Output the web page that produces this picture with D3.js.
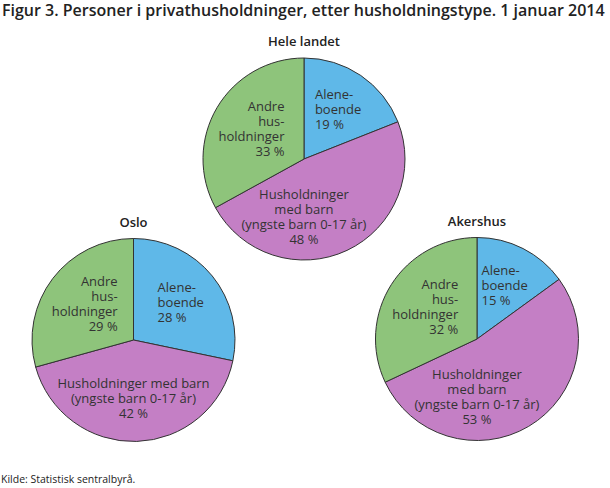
<!DOCTYPE html>
<html>
<head>
<meta charset="utf-8">
<script src="https://cdn.jsdelivr.net/npm/d3@7"></script>
<style>
  body { margin: 0; background: #fff; }
  svg { display: block; font-family: "Open Sans", sans-serif; }
</style>
</head>
<body>
<div id="chart_div"></div>
<script>
// Data
const categories = ["Alene-\nboende", "Husholdninger\nmed barn\n(yngste barn 0-17 år)", "Andre\nhus-\nholdninger"];
const regions = ["Hele landet", "Oslo", "Akershus"];
const heleLandet = [19, 48, 33];
const oslo = [28, 42, 29];
const akershus = [15, 53, 32];
const colors = ["#5fb8e8", "#c47fc5", "#8ec47b"];

const width = 610, height = 488;

// Pie placement (center x, center y, radius)
const layout = [
  { cx: 304, cy: 159, r: 101, values: heleLandet, labels: categories },
  { cx: 133.5, cy: 340, r: 101.5, values: oslo,
    labels: [categories[0], "Husholdninger med barn\n(yngste barn 0-17 år)", categories[2]] },
  { cx: 477, cy: 339, r: 101.5, values: akershus, labels: categories }
];

const svg = d3.select("#chart_div").append("svg")
  .attr("width", width)
  .attr("height", height);

// Title
svg.append("text")
  .attr("x", 2)
  .attr("y", 16)
  .attr("font-size", 16)
  .attr("font-weight", 600)
  .attr("fill", "#222")
  .text("Figur 3. Personer i privathusholdninger, etter husholdningstype. 1 januar 2014");

const pie = d3.pie().sort(null).value(d => d);

layout.forEach((p, idx) => {
  const g = svg.append("g").attr("transform", `translate(${p.cx},${p.cy})`);
  const arc = d3.arc().innerRadius(0).outerRadius(p.r);
  const labelArc = d3.arc().innerRadius(p.r * 0.6).outerRadius(p.r * 0.6);
  const arcs = pie(p.values);

  // Pie title
  svg.append("text")
    .attr("x", p.cx)
    .attr("y", p.cy - p.r - 12)
    .attr("text-anchor", "middle")
    .attr("font-size", 13)
    .attr("font-weight", 600)
    .attr("fill", "#222")
    .text(regions[idx]);

  g.selectAll("path")
    .data(arcs)
    .join("path")
    .attr("d", arc)
    .attr("fill", (d, i) => colors[i])
    .attr("stroke", "#333")
    .attr("stroke-width", 1)
    .attr("stroke-linejoin", "round");

  // Labels inside the slices
  arcs.forEach((d, i) => {
    const mid = (d.startAngle + d.endAngle) / 2;
    const lines = p.labels[i].split("\n").concat([d.data + " %"]);
    const bottom = d.startAngle < Math.PI && d.endAngle > Math.PI;
    const anchor = bottom ? "middle" : (mid < Math.PI ? "start" : "end");

    const lg = g.append("g");
    const t = lg.append("text")
      .attr("font-size", 13)
      .attr("fill", "#333")
      .attr("text-anchor", anchor);
    lines.forEach((line, k) => {
      t.append("tspan").attr("x", 0).attr("y", k * 15).text(line);
    });

    // Slice spanning the bottom gets its label centered under the pie center
    const target = bottom ? [0, p.r * 0.57] : labelArc.centroid(d);
    const bb = t.node().getBBox();
    const tx = target[0] - (bb.x + bb.width / 2);
    const ty = target[1] - (bb.y + bb.height / 2);
    lg.attr("transform", `translate(${tx},${ty})`);
  });
});

// Source
svg.append("text")
  .attr("x", 1)
  .attr("y", 483)
  .attr("font-size", 10.5)
  .attr("fill", "#222")
  .text("Kilde: Statistisk sentralbyrå.");
</script>
</body>
</html>
